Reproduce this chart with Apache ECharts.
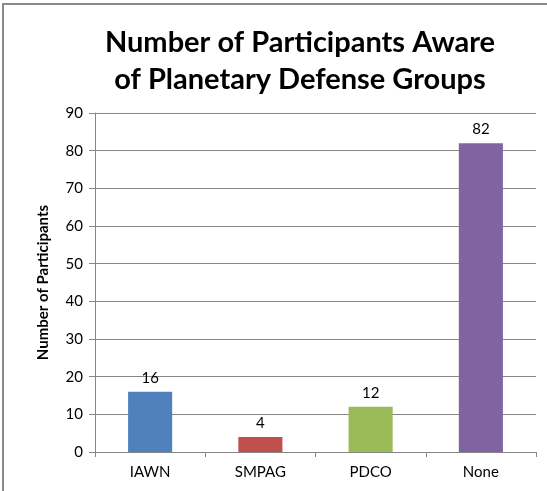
<!DOCTYPE html>
<html>
<head>
<meta charset="utf-8">
<style>
  html, body { margin: 0; padding: 0; background: #fff; }
  #chart { width: 547px; height: 491px; }
</style>
<script src="https://cdn.jsdelivr.net/npm/echarts@6/dist/echarts.min.js"></script>
</head>
<body>
<div id="chart"></div>
<script>
// 数据
const categories = ['IAWN', 'SMPAG', 'PDCO', 'None'];
const participants = [16, 4, 12, 82];
const barColors = ['#4F81BD', '#C0504D', '#9BBB59', '#8064A2'];
const yTicks = { min: 0, max: 90, interval: 10 };

const chart = echarts.init(document.getElementById('chart'));
const font = 'Lato, "Open Sans", sans-serif';

const option = {
  animation: false,
  textStyle: { fontFamily: font },
  title: {
    text: 'Number of Participants Aware\nof Planetary Defense Groups',
    left: 295,
    top: 19,
    textAlign: 'center',
    textStyle: {
      fontFamily: font,
      fontSize: 29,
      fontWeight: 'bold',
      lineHeight: 37,
      color: '#000'
    }
  },
  // 外框（只露出上边和左边）
  graphic: [{
    type: 'rect',
    shape: { x: 3, y: 4, width: 700, height: 700 },
    style: { fill: 'none', stroke: '#8a8a8a', lineWidth: 2 },
    silent: true
  }],
  grid: { left: 95, right: 11, top: 113, bottom: 39 },
  xAxis: {
    type: 'category',
    data: categories,
    axisLine: { lineStyle: { color: '#868686' } },
    axisTick: { show: true, length: 5, lineStyle: { color: '#868686' } },
    axisLabel: { color: '#000', fontSize: 15, margin: 13, fontFamily: font }
  },
  yAxis: {
    type: 'value',
    min: yTicks.min,
    max: yTicks.max,
    interval: yTicks.interval,
    name: 'Number of Participants',
    nameLocation: 'middle',
    nameGap: 44,
    nameTextStyle: { color: '#000', fontSize: 15, fontWeight: 'bold', fontFamily: font },
    axisLine: { show: true, lineStyle: { color: '#868686' } },
    axisTick: { show: true, length: 6, lineStyle: { color: '#868686' } },
    axisLabel: { color: '#000', fontSize: 15, margin: 12, fontFamily: font },
    splitLine: { lineStyle: { color: '#868686' } }
  },
  series: [{
    type: 'bar',
    barWidth: '40%',
    data: participants.map((v, i) => ({ value: v, itemStyle: { color: barColors[i] } })),
    label: {
      show: true,
      position: 'top',
      distance: 6,
      color: '#000',
      fontSize: 15,
      fontFamily: font
    }
  }]
};

chart.setOption(option);
</script>
</body>
</html>
